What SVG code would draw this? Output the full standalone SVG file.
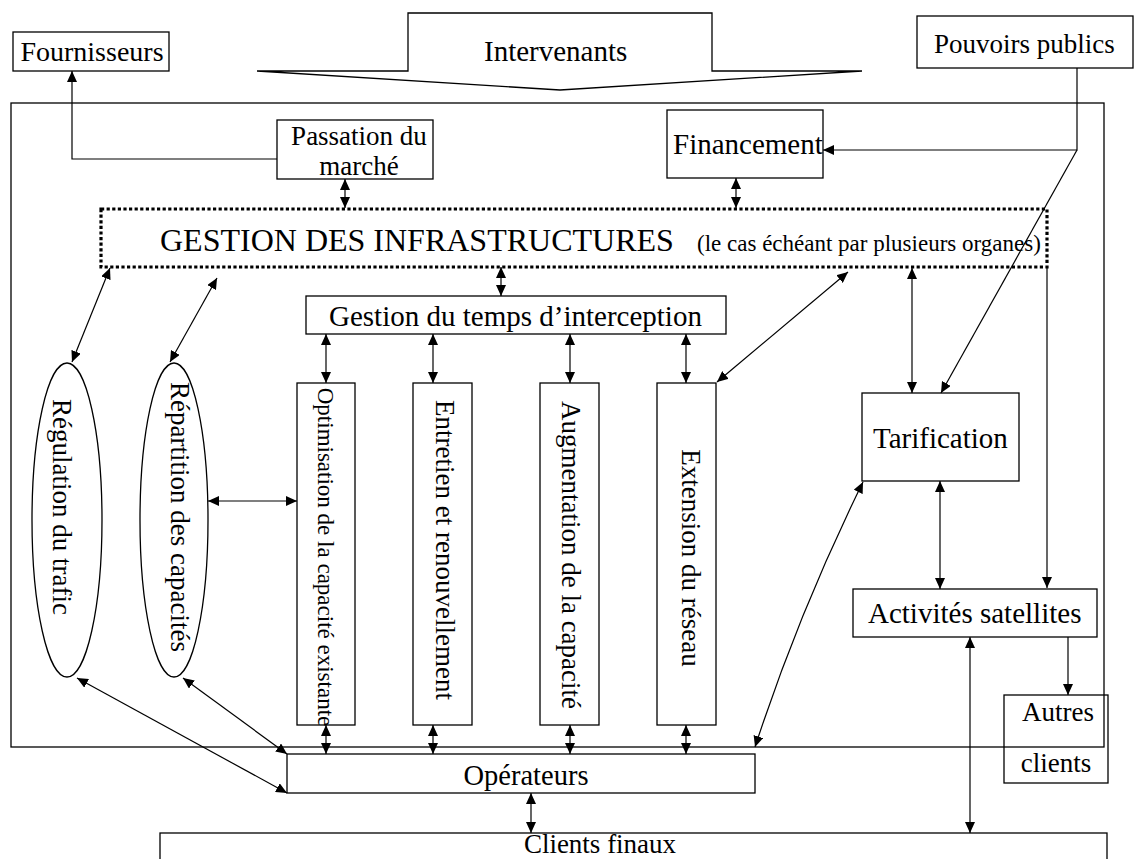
<svg xmlns="http://www.w3.org/2000/svg" width="1134" height="859" viewBox="0 0 1134 859">
<style>
.b{fill:none;stroke:#000;stroke-width:1.3}
.t{font-family:"Liberation Serif","Times New Roman",serif;fill:#000}
.c{fill:none;stroke:#000;stroke-width:1.2}
.d{fill:none;stroke:#000;stroke-width:3.2;stroke-dasharray:3.2 2.4}
</style>
<defs>
<marker id="ah" viewBox="0 0 11 10" refX="11" refY="5" markerWidth="11" markerHeight="10" markerUnits="userSpaceOnUse" orient="auto-start-reverse"><path d="M0,0 L11,5 L0,10 z" fill="#000"/></marker>
</defs>
<rect width="1134" height="859" fill="#fff"/>
<g id="frame"><rect class="b" x="11" y="103" width="1093" height="644"/></g>
<g id="intervenants">
<path class="b" d="M257,71 H408 V13 H712 V71 H862 L560,90 Z"/>
<text class="t" x="484" y="61" font-size="29">Intervenants</text>
</g>
<g id="fournisseurs"><rect class="b" x="13" y="32" width="156" height="39"/><text class="t" x="92" y="61" font-size="28" text-anchor="middle">Fournisseurs</text></g>
<g id="pouvoirs"><rect class="b" x="917" y="16" width="216" height="52"/><text class="t" x="934" y="53" font-size="27">Pouvoirs publics</text></g>
<g id="passation"><rect class="b" x="277" y="120" width="156" height="59"/><text class="t" x="359" y="145" font-size="27" text-anchor="middle">Passation du</text><text class="t" x="359" y="175" font-size="27" text-anchor="middle">marché</text></g>
<g id="financement"><rect class="b" x="667" y="110" width="156" height="68"/><text class="t" x="673" y="154" font-size="29">Financement</text></g>
<g id="gestion"><rect class="d" x="101" y="209" width="946" height="58"/><text class="t" x="160" y="251"><tspan font-size="32">GESTION DES INFRASTRUCTURES</tspan><tspan font-size="23" x="697">(le cas échéant par plusieurs organes)</tspan></text></g>
<g id="temps"><rect class="b" x="306" y="296" width="420" height="38"/><text class="t" x="329" y="326" font-size="29">Gestion du temps d’interception</text></g>
<g id="regulation"><ellipse class="b" cx="67" cy="520" rx="35" ry="157"/><text class="t" font-size="27" text-anchor="middle" transform="translate(53,507) rotate(90)">Régulation du trafic</text></g>
<g id="repartition"><ellipse class="b" cx="174" cy="520" rx="34" ry="157"/><text class="t" font-size="27" text-anchor="middle" transform="translate(171,517) rotate(90)">Répartition des capacités</text></g>
<g id="optimisation"><rect class="b" x="297" y="383" width="58" height="342"/><text class="t" font-size="23" text-anchor="middle" transform="translate(318,557) rotate(90)">Optimisation de la capacité existante</text></g>
<g id="entretien"><rect class="b" x="413" y="383" width="59" height="342"/><text class="t" font-size="27" text-anchor="middle" transform="translate(436,550) rotate(90)">Entretien et renouvellement</text></g>
<g id="augmentation"><rect class="b" x="540" y="383" width="59" height="342"/><text class="t" font-size="27" text-anchor="middle" transform="translate(562,555) rotate(90)">Augmentation de la capacité</text></g>
<g id="extension"><rect class="b" x="657" y="383" width="59" height="342"/><text class="t" font-size="27" text-anchor="middle" transform="translate(682,558) rotate(90)">Extension du réseau</text></g>
<g id="tarification"><rect class="b" x="862" y="393" width="157" height="88"/><text class="t" x="873" y="448" font-size="29">Tarification</text></g>
<g id="activites"><rect class="b" x="853" y="589" width="244" height="48"/><text class="t" x="868" y="623" font-size="29">Activités satellites</text></g>
<g id="autres"><rect class="b" x="1004" y="695" width="104" height="88"/><text class="t" x="1058" y="721" font-size="27" text-anchor="middle">Autres</text><text class="t" x="1056" y="772" font-size="27" text-anchor="middle">clients</text></g>
<g id="operateurs"><rect class="b" x="287" y="754" width="468" height="39"/><text class="t" x="526" y="785" font-size="28.5" text-anchor="middle">Opérateurs</text></g>
<g id="clients"><rect class="b" x="160" y="833" width="947" height="40"/><text class="t" x="600" y="853" font-size="27" text-anchor="middle">Clients finaux</text></g>
<g id="connectors" class="c">
<path class="c" d="M277,159 H72 V71" marker-end="url(#ah)"/>
<path class="c" d="M345,179 V208" marker-start="url(#ah)" marker-end="url(#ah)"/>
<path class="c" d="M736,178 V208" marker-start="url(#ah)" marker-end="url(#ah)"/>
<path class="c" d="M1077,68 V150 H823" marker-end="url(#ah)"/>
<path class="c" d="M1077,150 L941,393" marker-end="url(#ah)"/>
<path class="c" d="M501,267 V296" marker-start="url(#ah)" marker-end="url(#ah)"/>
<path class="c" d="M326,334 V383" marker-start="url(#ah)" marker-end="url(#ah)"/>
<path class="c" d="M433,334 V383" marker-start="url(#ah)" marker-end="url(#ah)"/>
<path class="c" d="M570,334 V383" marker-start="url(#ah)" marker-end="url(#ah)"/>
<path class="c" d="M686,334 V383" marker-start="url(#ah)" marker-end="url(#ah)"/>
<path class="c" d="M326,725 V754" marker-start="url(#ah)" marker-end="url(#ah)"/>
<path class="c" d="M433,725 V754" marker-start="url(#ah)" marker-end="url(#ah)"/>
<path class="c" d="M570,725 V754" marker-start="url(#ah)" marker-end="url(#ah)"/>
<path class="c" d="M686,725 V754" marker-start="url(#ah)" marker-end="url(#ah)"/>
<path class="c" d="M110,268 L72,362" marker-start="url(#ah)" marker-end="url(#ah)"/>
<path class="c" d="M217,278 L170,362" marker-start="url(#ah)" marker-end="url(#ah)"/>
<path class="c" d="M848,272 L717,382" marker-start="url(#ah)" marker-end="url(#ah)"/>
<path class="c" d="M912,268 V393" marker-start="url(#ah)" marker-end="url(#ah)"/>
<path class="c" d="M1047,267 V588" marker-end="url(#ah)"/>
<path class="c" d="M208,501 H297" marker-start="url(#ah)" marker-end="url(#ah)"/>
<path class="c" d="M77,678 L287,793" marker-start="url(#ah)" marker-end="url(#ah)"/>
<path class="c" d="M183,678 L287,754" marker-start="url(#ah)" marker-end="url(#ah)"/>
<path class="c" d="M863,482 Q799,612 755,747" marker-start="url(#ah)" marker-end="url(#ah)"/>
<path class="c" d="M940,481 V589" marker-start="url(#ah)" marker-end="url(#ah)"/>
<path class="c" d="M1068,637 V695" marker-end="url(#ah)"/>
<path class="c" d="M970,637 V833" marker-start="url(#ah)" marker-end="url(#ah)"/>
<path class="c" d="M531,793 V833" marker-start="url(#ah)" marker-end="url(#ah)"/>
</g>
</svg>
